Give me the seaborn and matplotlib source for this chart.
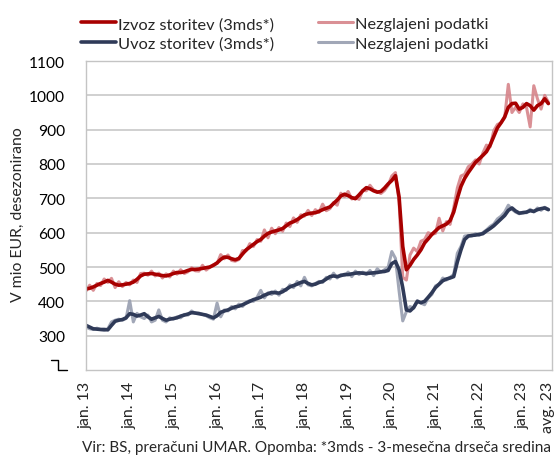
import numpy as np
import pandas as pd
import matplotlib
matplotlib.use("Agg")
import matplotlib.pyplot as plt
import seaborn as sns
from matplotlib.lines import Line2D

# monthly values jan 2013 - avg 2023, mio EUR (seasonally adjusted)
izvoz_3mds = [
    436, 438, 442, 447, 452, 456, 461, 456, 450, 447, 448, 450,
    452, 456, 464, 474, 479, 480, 481, 479, 477, 475, 474, 477,
    481, 484, 484, 486, 490, 493, 493, 494, 496, 498, 500, 505,
    512, 522, 529, 528, 524, 521, 525, 538, 550, 558, 566, 574,
    580, 590, 598, 602, 605, 608, 612, 620, 628, 632, 638, 645,
    652, 655, 657, 658, 662, 667, 671, 675, 685, 695, 707, 712,
    708, 702, 699, 710, 722, 731, 728, 722, 718, 720, 730, 742,
    752, 766, 704, 560, 492, 505, 522, 535, 550, 570, 582, 595,
    605, 615, 620, 625, 635, 660, 700, 735, 758, 775, 790, 805,
    815, 825, 836, 855, 880, 905, 920, 937, 965, 976, 977, 960,
    965, 976, 970, 957, 970, 976, 990, 976,
]
izvoz_raw = [
    430, 447, 432, 452, 446, 465, 455, 467, 440, 457, 443, 455,
    448, 462, 455, 481, 482, 476, 488, 474, 482, 468, 480, 471,
    488, 479, 492, 481, 486, 498, 489, 488, 505, 491, 499, 507,
    510, 536, 524, 535, 519, 517, 522, 548, 547, 568, 560, 580,
    575, 608, 585, 613, 597, 615, 604, 628, 618, 643, 630, 652,
    648, 665, 650, 667, 659, 683, 664, 670, 688, 680, 715, 705,
    720, 698, 703, 697, 723, 722, 738, 724, 720, 714, 723, 738,
    765, 775, 690, 470, 462, 535, 555, 545, 575, 580, 600, 595,
    598, 642, 605, 632, 624, 672, 730, 765, 770, 792, 800, 812,
    800, 832, 855, 850, 897, 915, 920, 935, 1032, 950, 965, 950,
    975, 965, 908, 1028, 990, 960, 1000, 980,
]
uvoz_3mds = [
    330, 325, 320, 319, 318, 318, 317, 330, 342, 345, 347, 352,
    364, 362, 357, 360, 364, 355, 348, 352, 356, 350, 345, 348,
    350, 352, 357, 360, 363, 367, 366, 364, 362, 360, 356, 352,
    358, 368, 372, 375, 380, 384, 386, 390, 395, 400, 405, 408,
    412, 418, 422, 426, 425, 424, 428, 435, 442, 446, 450, 455,
    458, 452, 448, 450, 455, 458, 465, 472, 474, 472, 475, 478,
    478, 480, 482, 483, 482, 481, 482, 483, 484, 486, 487, 490,
    510, 516, 492, 440, 375, 372, 382, 400, 396, 400, 412, 425,
    440, 450, 460, 465, 468, 472, 515, 550, 580, 590, 592, 593,
    595, 597, 605, 612, 620, 630, 640, 650, 665, 672, 663, 657,
    658, 660, 664, 662, 667, 670, 672, 667,
]
uvoz_raw = [
    325, 320, 318, 322, 318, 315, 320, 340, 345, 348, 345, 350,
    402, 340, 365, 355, 350, 360, 340, 345, 375, 345, 340, 352,
    348, 355, 352, 362, 360, 372, 365, 366, 362, 358, 352, 348,
    395, 355, 375, 372, 385, 378, 392, 385, 398, 402, 400, 412,
    432, 410, 425, 420, 430, 418, 435, 432, 448, 440, 458, 445,
    470, 448, 445, 452, 458, 455, 470, 465, 482, 468, 478, 475,
    485, 472, 488, 478, 485, 478, 490, 475, 495, 485, 492, 500,
    545, 525, 430, 343, 370, 385, 380, 402, 395, 390, 410, 420,
    445, 450, 468, 462, 470, 478, 540, 560, 590, 592, 590, 597,
    592, 600, 608, 618, 625, 640, 648, 660, 680, 668, 660, 655,
    660, 658, 668, 660, 672, 665, 674, 668,
]
tick_pos = [0, 12, 24, 36, 48, 60, 72, 84, 96, 108, 120, 127]
tick_labels = ["jan. 13", "jan. 14", "jan. 15", "jan. 16", "jan. 17", "jan. 18",
               "jan. 19", "jan. 20", "jan. 21", "jan. 22", "jan. 23", "avg. 23"]

df = pd.DataFrame({
    "mesec": np.arange(len(izvoz_3mds)),
    "izvoz": izvoz_3mds, "izvoz_raw": izvoz_raw,
    "uvoz": uvoz_3mds, "uvoz_raw": uvoz_raw,
})

sns.set_style("white")
plt.rcParams["font.family"] = ["Lato", "DejaVu Sans"]

W, H = 557, 460
fig = plt.figure(figsize=(W / 100, H / 100), dpi=100)
ax = fig.add_axes([86 / W, 1 - 371 / H, (552 - 86) / W, (371 - 62) / H])

sns.lineplot(data=df, x="mesec", y="izvoz_raw", ax=ax, color="#d6848a", lw=2.2, alpha=0.9,
             label="Nezglajeni podatki")
sns.lineplot(data=df, x="mesec", y="uvoz_raw", ax=ax, color="#9ca2b3", lw=2.2, alpha=0.95,
             label="Nezglajeni podatki")
sns.lineplot(data=df, x="mesec", y="izvoz", ax=ax, color="#a80000", lw=2.6,
             label="Izvoz storitev (3mds*)")
sns.lineplot(data=df, x="mesec", y="uvoz", ax=ax, color="#2f3a58", lw=2.6,
             label="Uvoz storitev (3mds*)")

ax.set_xlim(0, 128)
ax.set_ylim(200, 1100)
ax.set_yticks(range(300, 1101, 100))
ax.set_xticks(tick_pos)
ax.set_xticklabels(tick_labels, rotation=90)
ax.grid(axis="y", color="#c8c8c8", lw=1.2)
ax.set_axisbelow(True)
for s in ax.spines.values():
    s.set_color("#c4c4c4")
    s.set_linewidth(1.0)
ax.tick_params(axis="y", length=0, pad=15, labelsize=11.2, colors="black")
ax.tick_params(axis="x", length=5, width=1, color="#c4c4c4", pad=3, labelsize=11.5)
ax.set_xlabel("")
ax.set_ylabel("V mio EUR, desezonirano", fontsize=11.3)
ax.yaxis.set_label_coords(18 / W, 1 - 215 / H, transform=fig.transFigure)
ax.yaxis.label.set_verticalalignment("center")

# legend: smoothed series in the first column, raw data in the second
h, l = ax.get_legend_handles_labels()
ax.legend_.remove()
order = [2, 3, 0, 1]
fig.legend([h[i] for i in order], [l[i] for i in order], ncol=2, frameon=False,
           loc="upper left", bbox_to_anchor=(66 / W, 1 - 3 / H), fontsize=11.8,
           handlelength=2.15, handletextpad=0.1, columnspacing=2.7, labelspacing=0.3)

# axis break mark at 200
bx = [50.5 / W, 58.3 / W, 58.3 / W, 66.5 / W]
by = [1 - 360.5 / H, 1 - 360.5 / H, 1 - 370.5 / H, 1 - 370.5 / H]
fig.add_artist(Line2D(bx, by, color="black", lw=1.0, transform=fig.transFigure))

fig.text(317 / W, 1 - 448 / H, "Vir: BS, preračuni UMAR. Opomba: *3mds - 3-mesečna drseča sredina",
         ha="center", va="center", fontsize=11.0)

fig.savefig("out.png", dpi=100)
